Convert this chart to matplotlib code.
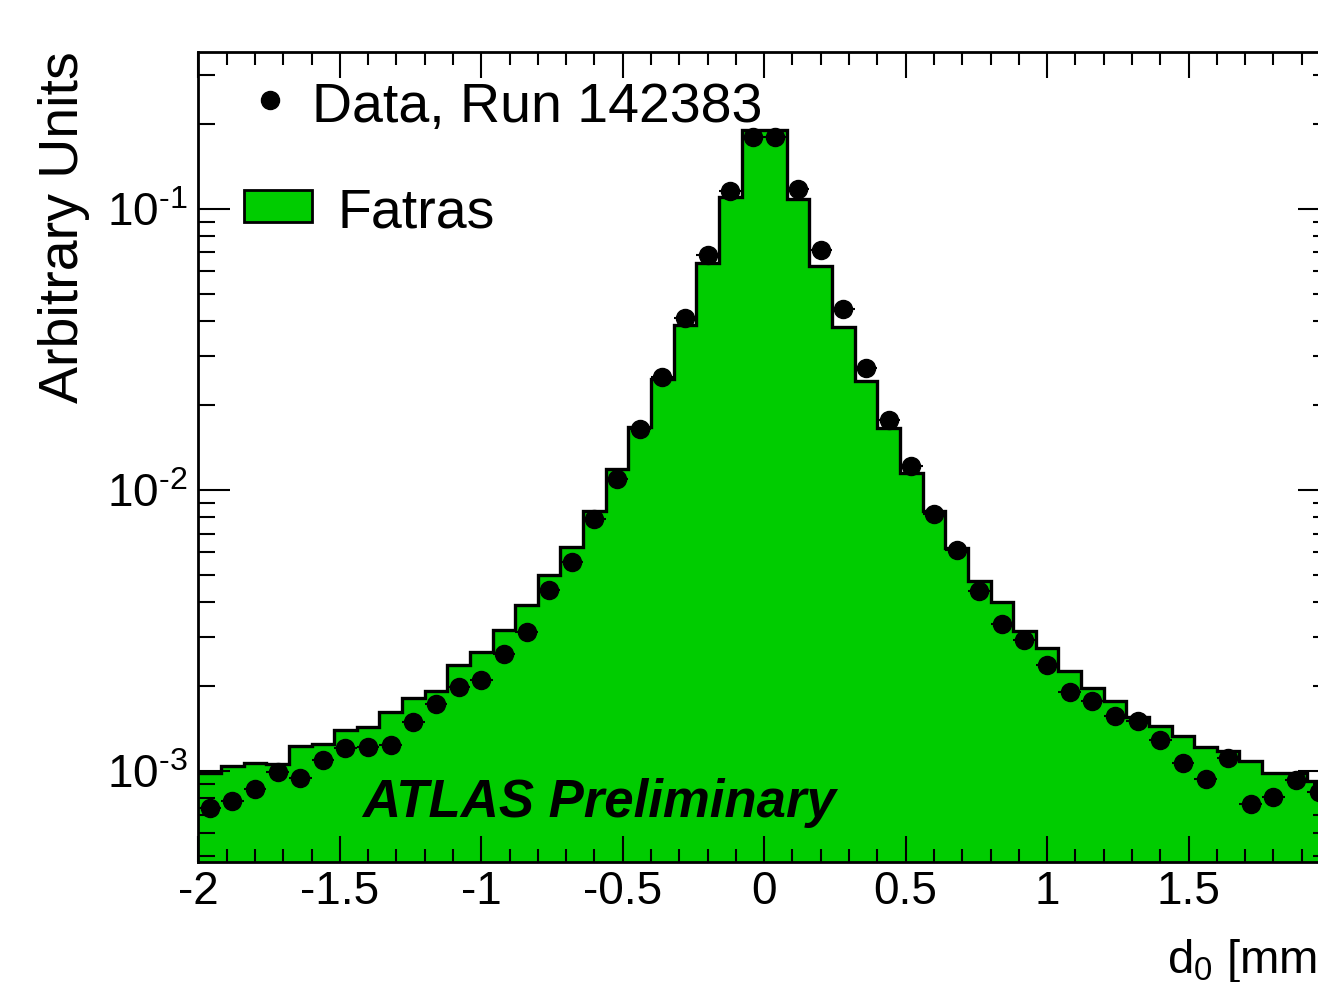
import numpy as np
import matplotlib
matplotlib.use("Agg")
import matplotlib.pyplot as plt
from matplotlib.patches import Rectangle

plt.rcParams['font.family'] = ['Liberation Sans', 'DejaVu Sans']
plt.rcParams['mathtext.fontset'] = 'custom'
plt.rcParams['mathtext.rm'] = 'Liberation Sans'
plt.rcParams['mathtext.it'] = 'Liberation Sans:italic'
plt.rcParams['mathtext.default'] = 'regular'
plt.rcParams['axes.unicode_minus'] = False

# d0 binning: 50 bins from -2 to 2 mm
bin_edges = np.linspace(-2, 2, 51)

# Fatras simulation (histogram heights)
fatras = [9.85e-4, 1.045e-3, 1.07e-3, 1.06e-3, 1.23e-3, 1.245e-3, 1.40e-3, 1.43e-3,
          1.62e-3, 1.82e-3, 1.93e-3, 2.38e-3, 2.66e-3, 3.18e-3, 3.90e-3, 4.99e-3,
          6.25e-3, 8.41e-3, 1.185e-2, 1.67e-2, 2.48e-2, 3.87e-2, 6.41e-2, 0.110,
          0.191, 0.191, 0.1086, 6.29e-2, 3.79e-2, 2.45e-2, 1.66e-2, 1.145e-2,
          8.41e-3, 6.20e-3, 4.74e-3, 3.98e-3, 3.15e-3, 2.73e-3, 2.26e-3, 1.98e-3,
          1.77e-3, 1.56e-3, 1.445e-3, 1.33e-3, 1.215e-3, 1.18e-3, 1.085e-3, 9.87e-4,
          9.82e-4, 9.2e-4]

# data, run 142383
data = [7.36e-4, 7.84e-4, 8.6e-4, 9.88e-4, 9.42e-4, 1.094e-3, 1.205e-3, 1.215e-3,
        1.24e-3, 1.49e-3, 1.73e-3, 1.99e-3, 2.11e-3, 2.60e-3, 3.13e-3, 4.40e-3,
        5.53e-3, 7.88e-3, 1.094e-2, 1.65e-2, 2.52e-2, 4.10e-2, 6.83e-2, 0.116,
        0.181, 0.180, 0.118, 7.15e-2, 4.39e-2, 2.72e-2, 1.77e-2, 1.22e-2,
        8.22e-3, 6.11e-3, 4.37e-3, 3.33e-3, 2.92e-3, 2.38e-3, 1.91e-3, 1.78e-3,
        1.57e-3, 1.51e-3, 1.29e-3, 1.065e-3, 9.33e-4, 1.115e-3, 7.64e-4, 8.11e-4,
        9.29e-4, 8.43e-4]

centers = 0.5 * (bin_edges[:-1] + bin_edges[1:])
half_w = 0.5 * (bin_edges[1] - bin_edges[0])
green = '#00cc00'


def pow_label(v, pos):
    # ROOT style 10^{-n} with a short hyphen
    e = int(round(np.log10(v)))
    if e < 0:
        return '$10^{\u2010%d}$' % (-e)
    return '$10^{%d}$' % e


fig = plt.figure(figsize=(13.18, 9.82), dpi=100)
ax = fig.add_axes([0.1505, 0.1222, 0.8586, 0.8252])

ax.stairs(fatras, bin_edges, baseline=1e-6, fill=True, color=green)
ax.stairs(fatras, bin_edges, baseline=None, color='black', linewidth=2.4)
ax.errorbar(centers, data, xerr=half_w, fmt='o', ms=13, color='black',
            elinewidth=1.5, capsize=0)

ax.set_yscale('log')
ax.set_xlim(-2, 2)
ax.set_ylim(4.745e-4, 0.3628)

ax.xaxis.set_major_locator(plt.MultipleLocator(0.5))
ax.xaxis.set_minor_locator(plt.MultipleLocator(0.1))
ax.xaxis.set_major_formatter(plt.FuncFormatter(lambda v, p: f'{v:g}'))
ax.yaxis.set_major_formatter(plt.FuncFormatter(pow_label))
ax.tick_params(axis='both', which='both', direction='in', top=True, right=True,
               width=1.5, labelsize=33)
ax.tick_params(axis='x', which='major', length=19, pad=6)
ax.tick_params(axis='x', which='minor', length=9.5)
ax.tick_params(axis='y', which='major', length=23, pad=8)
ax.tick_params(axis='y', which='minor', length=12)
for s in ax.spines.values():
    s.set_linewidth(2)

ax.set_ylabel('Arbitrary Units', fontsize=40, loc='top')
ax.yaxis.set_label_coords(-0.096, 1.0)
ax.set_xlabel('d$_{0}$ [mm]', fontsize=34, loc='right')
ax.xaxis.set_label_coords(1.0, -0.093)

# legend, drawn by hand like the ROOT one
ax.plot([0.0633], [0.9404], 'o', ms=13, color='black', transform=ax.transAxes)
ax.text(0.1004, 0.9132, 'Data, Run 142383', fontsize=40, transform=ax.transAxes,
        va='baseline')
ax.add_patch(Rectangle((0.0403, 0.7898), 0.0601, 0.0395, transform=ax.transAxes,
                       facecolor=green, edgecolor='black', linewidth=2))
ax.text(0.1233, 0.7824, 'Fatras', fontsize=40, transform=ax.transAxes, va='baseline')

ax.text(0.1445, 0.0555, 'ATLAS Preliminary', fontsize=38, fontweight='bold',
        fontstyle='italic', transform=ax.transAxes, va='baseline')

fig.savefig('out.png', dpi=100)
